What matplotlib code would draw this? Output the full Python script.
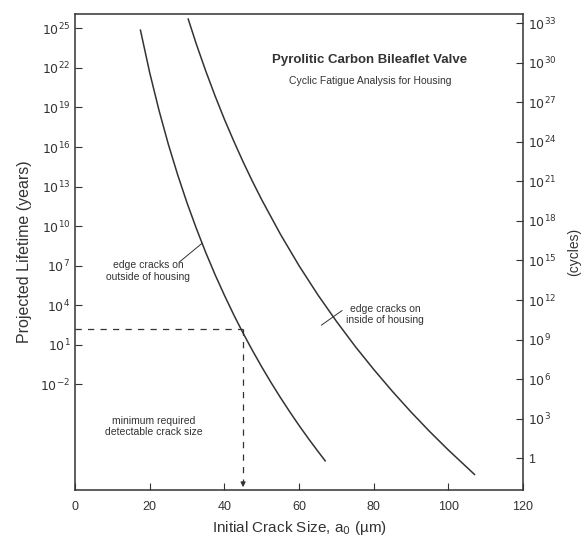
import numpy as np
import matplotlib.pyplot as plt
from matplotlib.ticker import FixedLocator, FuncFormatter

plt.rcParams['font.family'] = ['Liberation Sans', 'DejaVu Sans']

# crack size (um) vs log10 of projected lifetime (years)
outside_a = [17.5, 20, 22.5, 25, 27.5, 30, 32.5, 35, 37.5, 40, 42.5, 45, 47.5,
             50, 52.5, 55, 57.5, 60, 62.5, 65, 67]
outside_logy = [24.86, 21.61, 18.75, 16.18, 13.87, 11.75, 9.81, 8.0, 6.32, 4.76,
                3.28, 1.89, 0.58, -0.67, -1.86, -2.99, -4.07, -5.11, -6.10, -7.05, -7.79]
inside_a = [30.3, 32.5, 35, 37.5, 40, 42.5, 45, 47.5, 50, 55, 60, 65, 70, 75,
            80, 85, 90, 95, 100, 107]
inside_logy = [25.7, 23.78, 21.76, 19.87, 18.10, 16.45, 14.88, 13.40, 12.0, 9.39,
               7.0, 4.81, 2.79, 0.90, -0.86, -2.52, -4.09, -5.57, -6.97, -8.82]

min_crack = 45          # um
min_life_log = 2.2      # log10 years at minimum crack size
cycles_per_year_log = 7.6

left_ticks = list(range(-2, 26, 3))
right_ticks = list(range(0, 34, 3))
x_ticks = [0, 20, 40, 60, 80, 100, 120]

ink = '#333333'
ylo, yhi = -10.0, 26.06

fig = plt.figure(figsize=(5.87, 5.43), dpi=100)
ax = fig.add_axes([0.128, 0.0976, 0.763, 0.876])

ax.plot(outside_a, 10.0**np.array(outside_logy), color=ink, lw=1.1)
ax.plot(inside_a, 10.0**np.array(inside_logy), color=ink, lw=1.1)

# minimum detectable crack size
ax.plot([0, min_crack], [10**min_life_log]*2, color=ink, lw=0.9, ls=(0, (5, 5)))
ax.plot([min_crack]*2, [10**min_life_log, 10**(ylo+0.6)], color=ink, lw=0.9, ls=(0, (5, 5)))
ax.annotate('', xy=(min_crack, 10**ylo), xytext=(min_crack, 10**(ylo+0.8)),
            arrowprops=dict(arrowstyle='-|>', color=ink, lw=0.9, mutation_scale=7))

ax.set_yscale('log')
ax.set_xlim(0, 120)
ax.set_ylim(10**ylo, 10**yhi)
ax.yaxis.set_major_locator(FixedLocator([10.0**t for t in left_ticks]))
ax.yaxis.set_minor_locator(FixedLocator([]))
ax.yaxis.set_major_formatter(FuncFormatter(lambda v, p: r'$10^{%d}$' % round(np.log10(v))))
ax.set_xticks(x_ticks)
ax.tick_params(direction='in', length=5, color=ink, labelcolor=ink, labelsize=9)
ax.tick_params(axis='x', pad=8)
for s in ax.spines.values():
    s.set_color(ink)
    s.set_linewidth(1.1)

ax2 = ax.twinx()
ax2.set_yscale('log')
ax2.set_ylim(10**(ylo+cycles_per_year_log), 10**(yhi+cycles_per_year_log))
ax2.yaxis.set_major_locator(FixedLocator([10.0**t for t in right_ticks]))
ax2.yaxis.set_minor_locator(FixedLocator([]))
ax2.yaxis.set_major_formatter(FuncFormatter(
    lambda v, p: '1' if round(np.log10(v)) == 0 else r'$10^{%d}$' % round(np.log10(v))))
ax2.tick_params(direction='in', length=5, color=ink, labelcolor=ink, labelsize=9)
for s in ax2.spines.values():
    s.set_visible(False)

ax.set_xlabel('Initial Crack Size, a$_0$ (µm)', color=ink, fontsize=11, labelpad=4)
ax.set_ylabel('Projected Lifetime (years)', color=ink, fontsize=11.5, labelpad=6)
ax2.set_ylabel('(cycles)', color=ink, fontsize=10, labelpad=8)

ax.text(79, 10**22.6, 'Pyrolitic Carbon Bileaflet Valve', ha='center', va='center',
        fontsize=9.5, fontweight='bold', color=ink)
ax.text(79, 10**21.0, 'Cyclic Fatigue Analysis for Housing', ha='center', va='center',
        fontsize=7.5, color=ink)

ax.text(19.6, 10**6.6, 'edge cracks on\noutside of housing', ha='center', va='center',
        fontsize=7.5, color=ink, linespacing=1.2)
ax.plot([28, 34], [10**7.3, 10**8.7], color=ink, lw=0.7)

ax.text(83, 10**3.3, 'edge cracks on\ninside of housing', ha='center', va='center',
        fontsize=7.5, color=ink, linespacing=1.2)
ax.plot([66, 71.5], [10**2.5, 10**3.6], color=ink, lw=0.7)

ax.text(21, 10**-5.2, 'minimum required\ndetectable crack size', ha='center', va='center',
        fontsize=7.5, color=ink, linespacing=1.2)

fig.savefig('out.png', dpi=100)
